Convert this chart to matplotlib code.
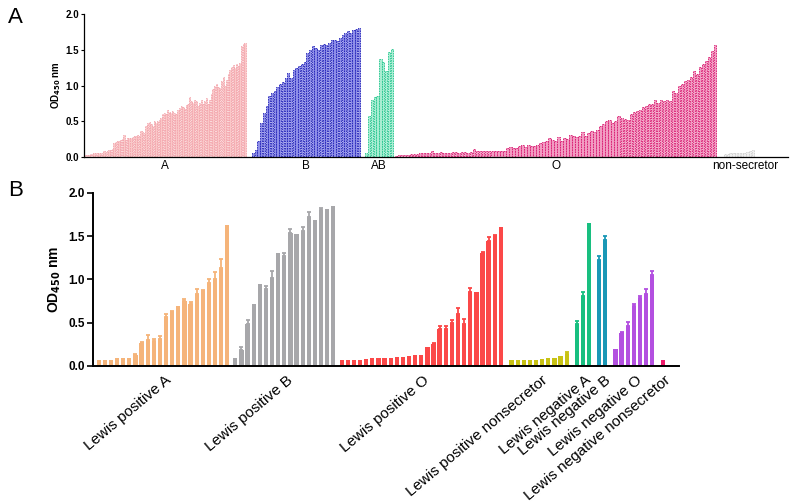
import numpy as np
import matplotlib
matplotlib.use("Agg")
import matplotlib.pyplot as plt

plt.rcParams["font.family"] = ["Liberation Sans", "DejaVu Sans"]

# ---- panel A: OD450 per sample, by blood group ----
a_labels = ["A", "B", "AB", "O", "non-secretor"]
a_grp_A = [0.03, 0.03, 0.03, 0.04, 0.04, 0.05, 0.05, 0.05, 0.06, 0.06, 0.06, 0.08, 0.07, 0.08,
           0.10, 0.10, 0.11, 0.20, 0.21, 0.22, 0.23, 0.24, 0.25, 0.31, 0.24, 0.26, 0.27, 0.26,
           0.28, 0.30, 0.29, 0.31, 0.29, 0.36, 0.35, 0.34, 0.44, 0.47, 0.49, 0.46, 0.44, 0.51,
           0.48, 0.50, 0.52, 0.55, 0.60, 0.62, 0.60, 0.66, 0.63, 0.62, 0.64, 0.62, 0.60, 0.66,
           0.68, 0.72, 0.70, 0.67, 0.73, 0.74, 0.84, 0.78, 0.76, 0.80, 0.78, 0.72, 0.76, 0.80,
           0.74, 0.78, 0.82, 0.74, 0.80, 0.88, 0.95, 0.99, 1.02, 0.98, 0.96, 1.06, 1.12, 1.00,
           1.08, 1.16, 1.22, 1.26, 1.28, 1.25, 1.30, 1.27, 1.32, 1.55, 1.58, 1.60]
a_grp_B = [0.05, 0.10, 0.22, 0.47, 0.62, 0.72, 0.85, 0.90, 0.93, 0.98, 1.02, 1.05, 1.10, 1.17,
           1.10, 1.22, 1.25, 1.27, 1.30, 1.33, 1.45, 1.50, 1.55, 1.53, 1.50, 1.56, 1.58, 1.56,
           1.60, 1.63, 1.64, 1.62, 1.66, 1.70, 1.74, 1.76, 1.73, 1.78, 1.79, 1.81]
a_grp_AB = [0.05, 0.57, 0.80, 0.84, 0.86, 1.37, 1.33, 1.20, 1.47, 1.51]
a_grp_O = [0.02, 0.03, 0.03, 0.03, 0.03, 0.04, 0.04, 0.04, 0.05, 0.05, 0.05, 0.05, 0.09,
           0.06, 0.05, 0.07, 0.06, 0.06, 0.06, 0.07, 0.07, 0.06, 0.07, 0.07, 0.06, 0.07, 0.11,
           0.08, 0.08, 0.09, 0.08, 0.09, 0.09, 0.09, 0.09, 0.08, 0.09, 0.13, 0.14, 0.12, 0.13,
           0.15, 0.17, 0.14, 0.17, 0.16, 0.16, 0.17, 0.19, 0.21, 0.22, 0.26, 0.24, 0.22, 0.28,
           0.23, 0.27, 0.25, 0.31, 0.30, 0.28, 0.30, 0.35, 0.30, 0.33, 0.36, 0.35, 0.38, 0.44,
           0.46, 0.50, 0.52, 0.48, 0.50, 0.58, 0.55, 0.53, 0.52, 0.60, 0.63, 0.65, 0.66, 0.70,
           0.72, 0.74, 0.74, 0.80, 0.76, 0.80, 0.78, 0.80, 0.78, 0.92, 0.90, 1.00, 1.02, 1.06,
           1.08, 1.12, 1.20, 1.16, 1.26, 1.30, 1.34, 1.40, 1.48, 1.56]
a_grp_NS = [0.04, 0.04, 0.05, 0.05, 0.05, 0.05, 0.06, 0.06, 0.07, 0.09, 0.10]

# ---- panel B: mean OD450 with SEM, by Lewis status ----
b_labels = ["Lewis positive A", "Lewis positive B", "Lewis positive O",
            "Lewis positive nonsecretor", "Lewis negative A", "Lewis negative B",
            "Lewis negative O", "Lewis negative nonsecretor"]
b_pos_A = [0.07, 0.07, 0.07, 0.09, 0.09, 0.09, 0.13, 0.27, 0.30, 0.29, 0.31, 0.57, 0.62, 0.69,
           0.75, 0.71, 0.83, 0.86, 0.96, 1.00, 1.13, 1.61]
b_pos_A_err = [0, 0, 0, 0, 0, 0, 0.01, 0.01, 0.06, 0.02, 0.04, 0.03, 0.02, 0, 0.02, 0.03, 0.06,
               0.02, 0.04, 0.08, 0.10, 0.01]
b_pos_B = [0.09, 0.18, 0.49, 0.72, 0.95, 0.89, 1.02, 1.30, 1.27, 1.54, 1.52, 1.56, 1.72, 1.68,
           1.80, 1.81, 1.85]
b_pos_B_err = [0, 0.04, 0.04, 0, 0, 0.03, 0.08, 0, 0.03, 0.04, 0, 0.04, 0.06, 0, 0.02, 0, 0]
b_pos_O = [0.07, 0.07, 0.07, 0.07, 0.08, 0.09, 0.09, 0.09, 0.09, 0.10, 0.10, 0.11, 0.13, 0.13,
           0.22, 0.25, 0.43, 0.43, 0.50, 0.60, 0.49, 0.85, 0.85, 1.30, 1.44, 1.50, 1.60]
b_pos_O_err = [0, 0, 0, 0, 0, 0, 0, 0, 0, 0, 0, 0, 0, 0, 0, 0.02, 0.03, 0.03, 0.03, 0.07, 0.05,
               0.05, 0, 0.02, 0.05, 0.01, 0]
b_pos_NS = [0.07, 0.07, 0.07, 0.07, 0.07, 0.08, 0.09, 0.09, 0.11, 0.14]
b_pos_NS_err = [0, 0, 0, 0, 0, 0, 0, 0, 0, 0.02]
b_neg_A = [0.48, 0.81, 1.65]
b_neg_A_err = [0.04, 0.04, 0]
b_neg_B = [1.22, 1.45]
b_neg_B_err = [0.05, 0.05]
b_neg_O = [0.20, 0.38, 0.46, 0.69, 0.78, 0.83, 1.05]
b_neg_O_err = [0, 0.01, 0.05, 0.03, 0.03, 0.06, 0.05]
b_neg_NS = [0.07]
b_neg_NS_err = [0]

W, H = 790, 504
fig = plt.figure(figsize=(W / 100, H / 100), dpi=100)


def frac(x0, y0, x1, y1):
    # pixel box -> figure fraction [left, bottom, width, height]
    return [x0 / W, 1 - y1 / H, (x1 - x0) / W, (y1 - y0) / H]


def od_axis(ax, tick_fs, lab_fs, pad):
    for s in ["top", "right"]:
        ax.spines[s].set_visible(False)
    ax.set_ylim(0, 2.0)
    ax.set_yticks([0, 0.5, 1.0, 1.5, 2.0])
    ax.set_yticklabels(["0.0", "0.5", "1.0", "1.5", "2.0"], fontsize=tick_fs, fontweight="bold")
    ax.set_xticks([])
    ax.set_ylabel(r"OD$_{\mathbf{450}}$ nm", fontsize=lab_fs, fontweight="bold", labelpad=pad)


# ---------- panel A ----------
axA = fig.add_axes(frac(84, 14, 788, 157))
groupsA = [a_grp_A, a_grp_B, a_grp_AB, a_grp_O, a_grp_NS]
extentA = [(85.5, 245), (253, 359), (366, 392), (396, 715), (725, 753)]
styleA = [("#fac8c8", "#f3a4ac"), ("#8e8ee8", "#1e1eb8"), ("#a8eed2", "#20c48c"),
          ("#f29cc2", "#d8156e"), ("#f0f0f0", "#cfcfcf")]
for vals, (x0, x1), (fc, ec), lab in zip(groupsA, extentA, styleA, a_labels):
    xs = np.linspace(x0, x1, len(vals))
    step = (x1 - x0) / (len(vals) - 1)
    axA.bar(xs, vals, width=step * 0.8, color=fc, edgecolor=ec, linewidth=0.6,
            linestyle=(0, (2, 1)))
    axA.text((x0 + x1) / 2 + (6 if lab == "non-secretor" else 0), -0.04, lab,
             fontsize=8.5, ha="center", va="top")
axA.set_xlim(84, 788)
od_axis(axA, 7, 7, 2)
axA.tick_params(axis="y", length=2.5, width=0.8, pad=1)
for s in ["left", "bottom"]:
    axA.spines[s].set_linewidth(0.9)

# ---------- panel B ----------
axB = fig.add_axes(frac(93, 192.7, 679, 366))
groupsB = [(b_pos_A, b_pos_A_err), (b_pos_B, b_pos_B_err), (b_pos_O, b_pos_O_err),
           (b_pos_NS, b_pos_NS_err), (b_neg_A, b_neg_A_err), (b_neg_B, b_neg_B_err),
           (b_neg_O, b_neg_O_err), (b_neg_NS, b_neg_NS_err)]
colorsB = ["#f5b47a", "#a7a7aa", "#fb4848", "#c8c214", "#18bf80", "#1a98b6", "#b350e0", "#f01c6c"]
gaps = [0, 1.31, 1.37, 1.75, 1.64, 1.64, 1.69, 1.70]
start = 0.0
first = None
for (vals, errs), col, gap, lab in zip(groupsB, colorsB, gaps, b_labels):
    start += gap
    xs = start + np.arange(len(vals))
    axB.bar(xs, vals, width=0.7, color=col, linewidth=0)
    errs = np.asarray(errs)
    m = errs > 0
    if m.any():
        axB.errorbar(xs[m], np.asarray(vals)[m], yerr=[np.zeros(m.sum()), errs[m]], fmt="none",
                     ecolor=col, elinewidth=1.3, capsize=1.6, capthick=1.3)
    axB.text(xs.mean() + 0.3, -0.08, lab, rotation=40, ha="right", va="top",
             rotation_mode="anchor", fontsize=11)
    if first is None:
        first = xs[0]
    start = xs[-1]
axB.set_xlim(first - 0.93, start + 2.67)
od_axis(axB, 8.5, 10, 4)
axB.tick_params(axis="y", length=4, width=1.2, pad=2)
for s in ["left", "bottom"]:
    axB.spines[s].set_linewidth(1.4)

fig.text(8 / W, 1 - 23 / H, "A", fontsize=16)
fig.text(8 / W, 1 - 196 / H, "B", fontsize=16)

fig.savefig("out.png", dpi=100)
